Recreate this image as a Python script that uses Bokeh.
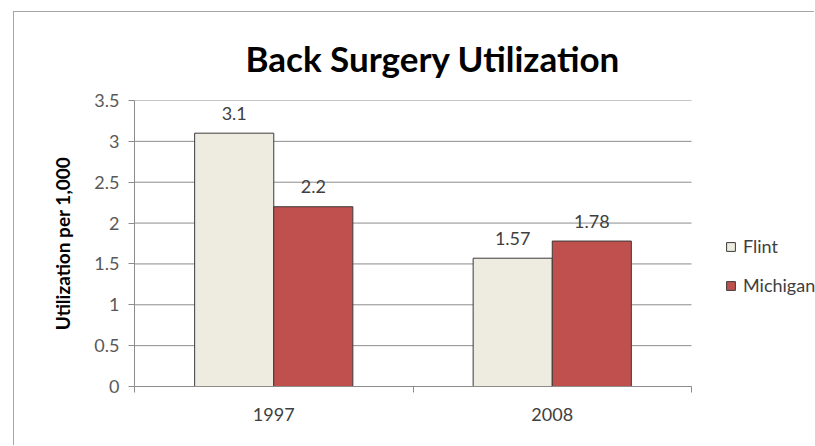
from bokeh.plotting import figure
from bokeh.models import (ColumnDataSource, Range1d, FixedTicker, Legend, LegendItem,
                          NumeralTickFormatter)
from bokeh.transform import dodge
from bokeh.core.properties import value
from bokeh.embed import file_html
from bokeh.resources import INLINE

# Utilization of back surgery per 1,000 people
years = ["1997", "2008"]
flint = [3.1, 1.57]
michigan = [2.2, 1.78]
y_ticks = [0, 0.5, 1, 1.5, 2, 2.5, 3, 3.5]

FONT = "Lato"
TEXT_GRAY = "#595959"
LINE_GRAY = "#8c8c8c"
FLINT_COLOR = "#eeece1"
MICHIGAN_COLOR = "#c0504d"
BAR_WIDTH = 0.284

FIG_W, FIG_H = 801, 434
BORDER_LEFT = 120
PLOT_W = 557            # pixel width of the bar area; the legend sits to its right

n = len(years)
centers = [i + 0.5 for i in range(n)]
bounds = list(range(n + 1))
frame_w = FIG_W - BORDER_LEFT
x_end = bounds[-1] * frame_w / PLOT_W

source = ColumnDataSource(dict(
    x=centers,
    year=years,
    flint=flint,
    michigan=michigan,
    flint_text=[str(v) for v in flint],
    michigan_text=[str(v) for v in michigan],
))

p = figure(
    width=FIG_W, height=FIG_H,
    x_range=Range1d(bounds[0], x_end),
    y_range=Range1d(y_ticks[0], y_ticks[-1]),
    output_backend="svg", toolbar_location=None,
    min_border_left=BORDER_LEFT, min_border_right=0,
    min_border_top=88, min_border_bottom=60,
    background_fill_color="white", border_fill_color="white",
)
p.styles = {
    "margin-left": "13px", "margin-top": "11px",
    "border-left": "1px solid #a6a6a6", "border-top": "1px solid #a6a6a6",
}
p.outline_line_color = None

# Title
p.title.text = "Back Surgery Utilization"
p.title.text_font = FONT
p.title.text_font_size = "35px"
p.title.text_font_style = "bold"
p.title.text_color = "#000000"
p.title.align = "left"
p.title.offset = 111
p.title.standoff = 44

# Horizontal grid lines limited to the bar area
p.xgrid.grid_line_color = None
p.ygrid.grid_line_color = None
p.segment(x0=bounds[0], x1=bounds[-1], y0=y_ticks, y1=y_ticks,
          line_color=LINE_GRAY, line_width=1)

# Bars
bar_kw = dict(source=source, width=BAR_WIDTH, line_color="#3a3a3a", line_width=1)
r_flint = p.vbar(x=dodge("x", -BAR_WIDTH / 2, range=p.x_range), top="flint",
                 fill_color=FLINT_COLOR, **bar_kw)
r_mich = p.vbar(x=dodge("x", BAR_WIDTH / 2, range=p.x_range), top="michigan",
                fill_color=MICHIGAN_COLOR, **bar_kw)

# Value labels above the bars
lbl_kw = dict(source=source, text_font=value(FONT), text_font_size="18px",
              text_color="#404040", text_align="center", text_baseline="middle",
              y_offset=-20)
p.text(x=dodge("x", -BAR_WIDTH / 2, range=p.x_range), y="flint", text="flint_text", **lbl_kw)
p.text(x=dodge("x", BAR_WIDTH / 2, range=p.x_range), y="michigan", text="michigan_text", **lbl_kw)

# Y axis
yaxis = p.yaxis[0]
yaxis.ticker = FixedTicker(ticks=y_ticks)
yaxis.formatter = NumeralTickFormatter(format="0.[0]")
yaxis.axis_label = "Utilization per 1,000"
yaxis.axis_label_text_font = FONT
yaxis.axis_label_text_font_size = "19px"
yaxis.axis_label_text_font_style = "bold"
yaxis.axis_label_text_color = "#000000"
yaxis.axis_label_standoff = 17
yaxis.major_label_text_font = FONT
yaxis.major_label_text_font_size = "18px"
yaxis.major_label_text_color = TEXT_GRAY
yaxis.major_label_standoff = 9
yaxis.axis_line_color = LINE_GRAY
yaxis.major_tick_line_color = LINE_GRAY
yaxis.major_tick_out = 6
yaxis.major_tick_in = 0
yaxis.minor_tick_line_color = None

# X axis: labels at category centres, ticks at category boundaries
xaxis = p.xaxis[0]
xaxis.bounds = (bounds[0], bounds[-1])
xaxis.ticker = FixedTicker(ticks=centers, minor_ticks=bounds)
xaxis.major_label_overrides = {c: y for c, y in zip(centers, years)}
xaxis.major_label_text_font = FONT
xaxis.major_label_text_font_size = "18px"
xaxis.major_label_text_color = "#404040"
xaxis.major_label_standoff = 15
xaxis.axis_line_color = LINE_GRAY
xaxis.major_tick_line_color = None
xaxis.major_tick_out = 0
xaxis.major_tick_in = 0
xaxis.minor_tick_line_color = LINE_GRAY
xaxis.minor_tick_out = 6
xaxis.minor_tick_in = 0

# Legend to the right of the bars
legend = Legend(
    items=[LegendItem(label="Flint", renderers=[r_flint]),
           LegendItem(label="Michigan", renderers=[r_mich])],
    location=(PLOT_W + 34, 90),
    glyph_width=11, glyph_height=11,
    label_height=11, label_standoff=7, spacing=17,
    padding=0, margin=0,
    border_line_color=None, background_fill_alpha=0,
    label_text_font=FONT, label_text_font_size="18px", label_text_color="#404040",
)
p.add_layout(legend, "center")

open("out.html", "w").write(file_html(p, INLINE))
